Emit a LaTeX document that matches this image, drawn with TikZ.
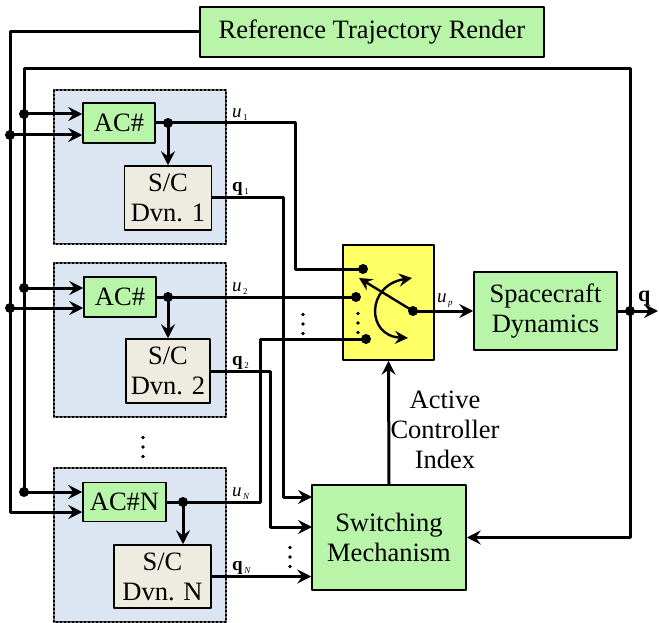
\documentclass[tikz,border=0pt]{standalone}
\usepackage{fontspec}
\setmainfont{Liberation Serif}
\usetikzlibrary{arrows.meta}
\definecolor{boxgreen}{HTML}{B8F5A8}
\definecolor{grpblue}{HTML}{DCE6F2}
\definecolor{scbeige}{HTML}{EEECE1}
\definecolor{swyellow}{HTML}{FFFF66}
\newcommand{\ulab}[1]{\textit{u}\raisebox{-3pt}{\fontsize{9}{9}\selectfont\,#1}}
\newcommand{\qlab}[1]{\textbf{q}\raisebox{-3pt}{\fontsize{9}{9}\selectfont\,#1}}

\begin{document}
\begin{tikzpicture}[x=1pt,y=-1pt,line cap=round,line join=round,
  font=\fontsize{26.5}{30}\selectfont,
  blk/.style={draw,line width=1.5pt,inner sep=0pt,align=center},
  gbox/.style={blk,fill=boxgreen},
  scbox/.style={blk,fill=scbeige},
  grp/.style={draw,dotted,line width=2pt,fill=grpblue},
  wire/.style={line width=3pt},
  arr/.style={wire,-{Stealth[length=14pt,width=14pt,inset=5pt]}},
  lbl/.style={anchor=south west,font=\fontsize{19}{19}\selectfont,inner sep=1pt}]
  \useasboundingbox (0,0) rectangle (659,623);
  \draw[grp] (54,90) rectangle (226,244);
  \draw[grp] (54,263) rectangle (226,417);
  \draw[grp] (54,468) rectangle (226,622);

  \node[gbox,minimum width=344pt,minimum height=50pt] (ref) at (372,32) {Reference Trajectory Render};
  \node[gbox,minimum width=72pt,minimum height=40pt] (ac1) at (119,123) {AC\#};
  \node[scbox,minimum width=87pt,minimum height=64pt] (sc1) at (168,198) {S/C\\Dvn. 1};
  \node[gbox,minimum width=72pt,minimum height=40pt] (ac2) at (120,297) {AC\#};
  \node[scbox,minimum width=84pt,minimum height=64pt] (sc2) at (168,371) {S/C\\Dvn. 2};
  \node[gbox,minimum width=83pt,minimum height=39pt] (acN) at (124.5,502) {AC\#N};
  \node[scbox,minimum width=97pt,minimum height=63pt] (scN) at (162.5,576.5) {S/C\\Dvn. N};
  \node[blk,fill=swyellow,minimum width=91pt,minimum height=115pt] (sw) at (388.5,302.5) {};
  \node[gbox,minimum width=143pt,minimum height=78pt] (sd) at (545.5,311) {Spacecraft\\Dynamics};
  \node[gbox,minimum width=154pt,minimum height=105pt] (sm) at (389,537.5) {Switching\\Mechanism};
  \node[align=center] (aci) at (445,430) {Active\\Controller\\Index};

  \coordinate (d1) at (168,123);
  \coordinate (d2) at (168,297);
  \coordinate (dN) at (183,502);
  \coordinate (s1) at (363,269);
  \coordinate (s2) at (356,297);
  \coordinate (sN) at (366,339);
  \coordinate (pole) at (413,311);
  \coordinate (qj) at (630,311);
  \coordinate (qout) at (658,311);
  \coordinate (a1) at (24,114);
  \coordinate (a2) at (24,288);
  \coordinate (aN) at (24,492);
  \coordinate (b1) at (10,135);
  \coordinate (b2) at (10,308);
  \coordinate (m1) at (312,497);
  \coordinate (m2) at (312,527);

  \draw[arr] (ref.west) -| (10,512) -- ([yshift=-10pt]acN.west);
  \draw[arr] (b1) -- (b1 -| ac1.west);
  \draw[arr] (b2) -- (b2 -| ac2.west);
  \draw[wire] (qj) |- (24,69) -- (aN);
  \draw[arr] (a1) -- (a1 -| ac1.west);
  \draw[arr] (a2) -- (a2 -| ac2.west);
  \draw[arr] (aN) -- (aN -| acN.west);
  \draw[arr] (qj) |- (sm.east);
  \draw[wire] (sd.east) -- (qj);
  \draw[arr] (qj) -- (qout);

  \draw[wire] (ac1.east) -- (d1) -| (295,269) -- (s1);
  \draw[arr] (d1) -- (sc1.north);
  \draw[wire] (ac2.east) -- (s2);
  \draw[arr] (d2) -- (sc2.north);
  \draw[wire] (acN.east) -- (dN) -| (260,339) -- (sN);
  \draw[arr] (dN) -- (dN |- scN.north);

  \draw[arr] (sc1.east) -| ([xshift=-29pt]m1) -- (m1);
  \draw[arr] (sc2.east) -| ([xshift=-42pt]m2) -- (m2);
  \draw[arr] (scN.east) -- (scN.east -| sm.west);
  \draw[arr] (sm.north) -- (sw.south);
  \draw[arr] (pole) -- (sd.west);

  \draw[wire,line width=2.4pt,-{Stealth[length=13pt,width=13pt,inset=4.5pt]}] (pole) -- (359,278);
  \draw[wire,line width=2.4pt,{Stealth[length=13pt,width=13pt,inset=4.5pt]}-{Stealth[length=13pt,width=13pt,inset=4.5pt]}]
    (412,278) .. controls (366,285) and (366,336) .. (408,338);

  \foreach \p in {d1,d2,dN,s1,s2,sN,pole,qj,a1,a2,aN,b1,b2}
    \fill (\p) circle (5pt);
  \foreach \x/\y in {303/324,358/323,143/447,290/557}
    \foreach \k in {-9.5,0,9.5}
      \fill (\x,\y+\k) circle (1.8pt);

  \node[lbl] at (231,122) {\ulab{1}};
  \node[lbl] at (231,197) {\qlab{1}};
  \node[lbl] at (231,296) {\ulab{2}};
  \node[lbl] at (231,371) {\qlab{2}};
  \node[lbl] at (231,501) {\ulab{\textit{N}}};
  \node[lbl] at (231,576) {\qlab{\textit{N}}};
  \node[lbl] at (436,309) {\ulab{\textit{p}}};
  \node[lbl,font=\fontsize{22}{22}\selectfont] at (637,307) {\textbf{q}};
\end{tikzpicture}
\end{document}
